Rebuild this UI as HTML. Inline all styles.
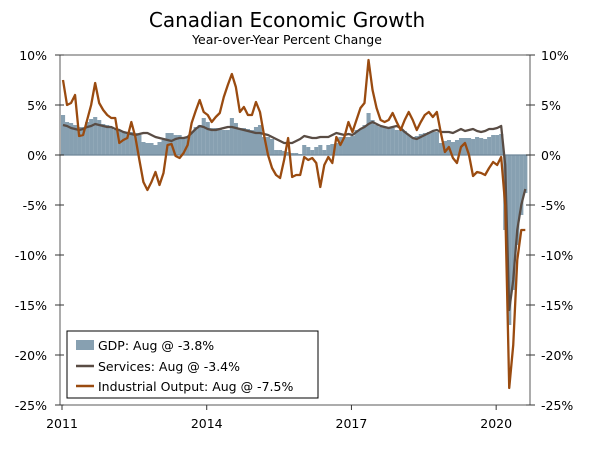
<!DOCTYPE html>
<html><head><meta charset="utf-8"><style>
body{margin:0;background:#fff;}
svg text{font-family:"DejaVu Sans","Liberation Sans",sans-serif;fill:#000;}
</style></head><body>
<svg id="chart" width="600" height="444">
<text x="287" y="27" text-anchor="middle" font-size="20">Canadian Economic Growth</text>
<text x="287" y="44" text-anchor="middle" font-size="12.5">Year-over-Year Percent Change</text>
<g id="bars"></g>
<g id="axes"></g>
<g id="lines"></g>
<g id="legend">
<rect x="67" y="331" width="251" height="67" fill="#fff" stroke="#000" stroke-width="1"/>
<rect x="76" y="340" width="18" height="10" fill="#87a0b1"/>
<text x="98" y="350" font-size="12.5">GDP: Aug @ -3.8%</text>
<line x1="76" y1="366" x2="94" y2="366" stroke="#594c44" stroke-width="2.5"/>
<text x="98" y="371" font-size="12.5">Services: Aug @ -3.4%</text>
<line x1="76" y1="386" x2="94" y2="386" stroke="#9a4b10" stroke-width="2.5"/>
<text x="98" y="391" font-size="12.5">Industrial Output: Aug @ -7.5%</text>
</g>
</svg>
<script>
const yTicks=[10,5,0,-5,-10,-15,-20,-25];
const xYears=[2011,2014,2017,2020];
const gdp=[4.0,3.3,3.2,3.0,2.8,2.8,3.3,3.6,3.8,3.5,3.1,3.0,2.8,2.5,2.5,2.3,2.3,2.3,2.2,2.0,1.3,1.2,1.2,1.0,1.3,1.5,2.2,2.2,2.0,2.0,1.8,1.8,2.3,2.8,3.0,3.7,3.3,2.7,2.7,2.7,2.5,2.5,3.7,3.2,2.7,2.7,2.6,2.5,2.8,3.0,1.8,1.8,1.6,0.5,0.5,0.4,0.3,0.2,0.2,0.1,1.0,0.8,0.5,0.8,1.0,0.5,1.0,1.1,1.2,1.8,1.8,1.8,1.9,2.5,2.6,3.0,4.2,3.5,3.0,2.8,2.8,2.8,2.7,2.5,2.5,2.4,2.0,1.8,1.9,2.1,2.2,2.3,2.3,2.3,1.2,1.4,1.5,1.3,1.5,1.7,1.7,1.7,1.6,1.8,1.7,1.6,1.8,2.0,2.0,2.1,-7.5,-17.0,-13.5,-9.0,-6.0,-3.8];
const services=[3.0,2.9,2.7,2.6,2.5,2.6,2.8,2.9,3.1,3.0,2.9,2.8,2.8,2.6,2.5,2.3,2.2,2.1,2.0,2.1,2.2,2.2,2.0,1.8,1.7,1.6,1.5,1.4,1.6,1.7,1.7,1.8,2.2,2.6,2.9,2.8,2.6,2.5,2.5,2.6,2.7,2.8,2.8,2.7,2.6,2.5,2.4,2.3,2.2,2.2,2.1,2.0,1.8,1.6,1.4,1.2,1.2,1.2,1.4,1.6,1.9,1.8,1.7,1.7,1.8,1.8,1.8,2.0,2.2,2.1,2.0,2.1,2.0,2.3,2.6,2.8,3.1,3.3,3.1,2.9,2.8,2.7,2.8,2.9,2.7,2.3,2.0,1.7,1.6,1.8,2.0,2.2,2.4,2.5,2.3,2.3,2.3,2.2,2.4,2.6,2.4,2.5,2.6,2.4,2.3,2.4,2.6,2.6,2.7,2.9,-1.0,-15.5,-12.5,-7.5,-5.0,-3.4];
const industrial=[7.5,5.0,5.2,6.0,1.9,2.0,3.5,5.0,7.2,5.2,4.5,4.0,3.7,3.7,1.2,1.5,1.7,3.3,1.8,-0.5,-2.7,-3.5,-2.7,-1.7,-3.0,-1.8,1.0,1.1,-0.1,-0.3,0.2,1.0,3.2,4.4,5.5,4.3,4.0,3.3,3.8,4.2,5.8,7.0,8.1,6.8,4.3,4.8,4.0,4.0,5.3,4.3,2.0,0.0,-1.3,-2.0,-2.3,-0.5,1.7,-2.2,-2.0,-2.0,-0.2,-0.5,-0.3,-0.8,-3.2,-1.0,-0.2,-0.8,1.8,1.0,1.8,3.3,2.3,3.5,4.7,5.2,9.5,6.5,4.7,3.5,3.3,3.5,4.2,3.3,2.5,3.5,4.3,3.5,2.5,3.3,4.0,4.3,3.8,4.3,2.2,0.3,0.8,-0.3,-0.8,0.8,1.2,0.0,-2.1,-1.7,-1.8,-2.0,-1.3,-0.7,-1.0,-0.2,-5.0,-23.3,-19.0,-10.5,-7.5,-7.5];

const NS="http://www.w3.org/2000/svg";
const L=60,R=530,T=55,B=405;
const y=v=>155-(v*10);
const xm=m=>63+m*4.02;
const xYear=yr=>xm((yr-2011)*12)-1;
function mk(tag,attrs,parent){const e=document.createElementNS(NS,tag);for(const k in attrs)e.setAttribute(k,attrs[k]);parent.appendChild(e);return e;}
const bars=document.getElementById('bars'),axes=document.getElementById('axes'),lines=document.getElementById('lines');
gdp.forEach((v,i)=>{
  const r=mk('rect',{x:xm(i)-2.01,y:Math.min(y(v),y(0)),width:4.1,height:Math.abs(y(v)-y(0)),fill:'#87a0b1'},bars);
  
  
});
const zl=mk('line',{x1:L,x2:R,y1:y(0),y2:y(0),stroke:'#6f8799','stroke-width':1.2},axes);


const fr=mk('rect',{x:L,y:T,width:R-L,height:B-T,fill:'none',stroke:'#5a5a5a','stroke-width':1},axes);


yTicks.forEach(t=>{
  mk('line',{x1:L-5,x2:L+4,y1:y(t),y2:y(t),stroke:'#333'},axes);
  mk('line',{x1:R-4,x2:R+5,y1:y(t),y2:y(t),stroke:'#333'},axes);
  const a=mk('text',{x:L-13,y:y(t)+5,'text-anchor':'end','font-size':12.5},axes);a.textContent=t+'%';
  
  
  const b=mk('text',{x:R+11,y:y(t)+5,'font-size':12.5},axes);b.textContent=t+'%';
  
  
});
xYears.forEach(yr=>{
  mk('line',{x1:xYear(yr),x2:xYear(yr),y1:B,y2:B+5,stroke:'#333'},axes);
  const t=mk('text',{x:xYear(yr),y:428,'text-anchor':'middle','font-size':12.5},axes);t.textContent=yr;
  
  
});
function line(data,color,name){
  const p=mk('polyline',{points:data.map((v,i)=>xm(i)+','+y(v)).join(' '),fill:'none',stroke:color,'stroke-width':2.3,'stroke-linejoin':'round'},lines);
  
  
}
line(services,'#594c44','services-line');
line(industrial,'#9a4b10','industrial-output-line');
</script>
</body></html>
